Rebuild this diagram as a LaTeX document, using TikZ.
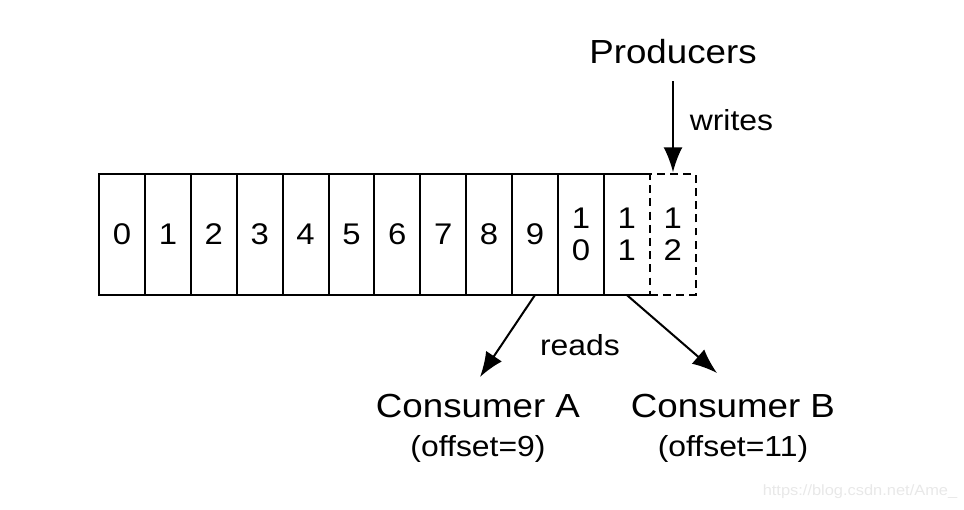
\documentclass[tikz,border=0pt]{standalone}
\usepackage{fontspec}
\setmainfont[FakeStretch=1.1]{Liberation Sans}
\usetikzlibrary{positioning,arrows.meta}

\begin{document}
\begin{tikzpicture}[x=0.02cm,y=-0.02cm,line width=1.15pt,
    >={Latex[length=5mm,width=3.8mm]},
    cell/.style={rectangle,minimum width=0.918cm,minimum height=2.42cm,
      inner sep=0pt,outer sep=0pt,align=center,
      font=\fontsize{17}{18}\selectfont},
    big/.style={inner sep=0pt,font=\fontsize{19}{20}\selectfont},
    small/.style={inner sep=0pt,font=\fontsize{16.5}{18}\selectfont}]
  \useasboundingbox (0,0) rectangle (964,510);
  % the log
  \node[cell,draw] (c0) at (122,234.5) {0};
  \node[cell,draw,right=0pt of c0] (c1) {1};
  \node[cell,draw,right=0pt of c1] (c2) {2};
  \node[cell,draw,right=0pt of c2] (c3) {3};
  \node[cell,draw,right=0pt of c3] (c4) {4};
  \node[cell,draw,right=0pt of c4] (c5) {5};
  \node[cell,draw,right=0pt of c5] (c6) {6};
  \node[cell,draw,right=0pt of c6] (c7) {7};
  \node[cell,draw,right=0pt of c7] (c8) {8};
  \node[cell,draw,right=0pt of c8] (c9) {9};
  \node[cell,draw,right=0pt of c9] (c10) {1\\0};
  \node[cell,right=0pt of c10] (c11) {1\\1};
  \draw (c10.north east) -- (c11.north east);
  \draw (c10.south east) -- (c11.south east);
  \node[cell,draw,dashed,dash pattern=on 4.5pt off 3pt,right=0pt of c11] (c12) {1\\2};
  % producers
  \node[big] (prod) at (673,52) {Producers};
  \draw[->,shorten <=9pt,shorten >=1pt] (prod.south) -- (prod.south |- c12.north)
    node[midway,right=9pt,small] (writes) {writes};
  % consumers
  \node[big] (conA) at (478,406) {Consumer A};
  \node[small,below=9pt of conA] (offA) {(offset=9)};
  \node[big] (conB) at (733,406) {Consumer B};
  \node[small,below=9pt of conB] (offB) {(offset=11)};
  \coordinate (tipA) at (480,377);
  \coordinate (tipB) at (717,373);
  \draw[->] (c9.south) -- (tipA);
  \draw[->] (c11.south) -- (tipB);
  \node[small] (reads) at (580,345) {reads};
  \node[inner sep=0pt,text=gray!18,font=\fontsize{8.5}{9}\selectfont] (mark) at (860,492) {https://blog.csdn.net/Ame\_};
\end{tikzpicture}
\end{document}
